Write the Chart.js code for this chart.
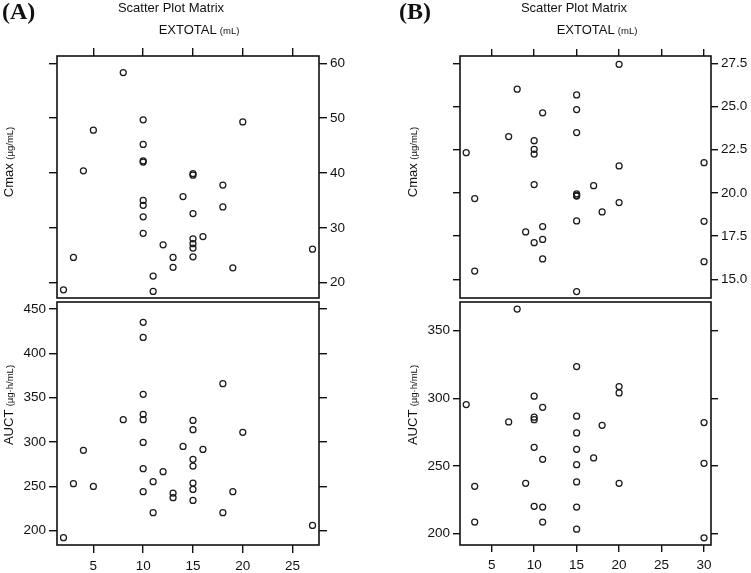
<!DOCTYPE html>
<html>
<head>
<meta charset="utf-8">
<script src="https://cdn.jsdelivr.net/npm/chart.js@4"></script>
<style>
  body { margin: 0; background: #fff; }
  #page { position: relative; width: 751px; height: 573px; overflow: hidden; font-family: "Liberation Sans", Arial, sans-serif; color: #111; }
  #page canvas { position: absolute; left: 0; top: 0; }
  .txt { position: absolute; white-space: nowrap; line-height: 1; }
  .panelTag { font-family: "Liberation Serif", "Times New Roman", serif; font-weight: bold; font-size: 24px; }
  .title { font-size: 13px; transform: translateX(-50%); }
  .small { font-size: 9.5px; }
  .ylab { font-size: 13px; transform: translate(-50%, -50%) rotate(-90deg); }
</style>
</head>
<body>
<div id="page">
  <canvas id="aTop" width="751" height="573"></canvas>
  <canvas id="aBottom" width="751" height="573"></canvas>
  <canvas id="bTop" width="751" height="573"></canvas>
  <canvas id="bBottom" width="751" height="573"></canvas>

  <div class="txt panelTag" style="left:2px; top:-1px;">(A)</div>
  <div class="txt title" style="left:171px; top:1px;">Scatter Plot Matrix</div>
  <div class="txt title" style="left:199px; top:23px;">EXTOTAL <span class="small">(mL)</span></div>
  <div class="txt ylab" style="left:8px; top:162px;">Cmax <span class="small">(µg/mL)</span></div>
  <div class="txt ylab" style="left:8px; top:405px;">AUCT <span class="small">(µg·h/mL)</span></div>

  <div class="txt panelTag" style="left:399px; top:-1px;">(B)</div>
  <div class="txt title" style="left:574px; top:1px;">Scatter Plot Matrix</div>
  <div class="txt title" style="left:597px; top:23px;">EXTOTAL <span class="small">(mL)</span></div>
  <div class="txt ylab" style="left:412px; top:162px;">Cmax <span class="small">(µg/mL)</span></div>
  <div class="txt ylab" style="left:412px; top:405px;">AUCT <span class="small">(µg·h/mL)</span></div>
</div>
<script>
'use strict';

/* data */
const extotalA = [2, 3, 4, 5, 8, 10, 10, 10, 10, 10, 10, 10, 10, 11, 11, 12, 13, 13, 14, 15, 15, 15, 15, 15, 15, 15, 16, 18, 18, 19, 20, 27];
const cmaxA = [18.7, 24.6, 40.4, 47.8, 58.3, 49.7, 45.2, 42.2, 42.0, 35.0, 34.1, 32.0, 29.0, 21.2, 18.4, 26.9, 24.6, 22.8, 35.7, 39.9, 39.6, 32.6, 28.0, 27.1, 26.3, 24.7, 28.4, 37.8, 33.8, 22.7, 49.3, 26.1];
const auctA = [192.1, 253, 290.6, 250, 325.2, 435, 418, 353.8, 331.2, 325.2, 299.6, 270, 244, 255.3, 220.3, 266.5, 242.5, 237.2, 295.1, 324.4, 313.9, 280.5, 272.9, 253.8, 246.6, 234.2, 291.7, 365.8, 220.3, 244, 311, 206];

const extotalB = [2, 3, 3, 7, 8, 9, 10, 10, 10, 10, 10, 11, 11, 11, 11, 15, 15, 15, 15, 15, 15, 15, 15, 17, 18, 20, 20, 20, 30, 30, 30];
const cmaxB = [22.33, 19.67, 15.48, 23.26, 26.0, 17.74, 23.02, 22.52, 22.25, 20.48, 17.12, 24.63, 18.05, 17.31, 16.18, 25.67, 24.82, 23.49, 19.95, 19.85, 19.82, 18.38, 14.29, 20.42, 18.9, 27.44, 21.56, 19.44, 21.75, 18.36, 16.02];
const auctB = [295.3, 235, 208.6, 282.5, 365.8, 237.2, 301.5, 286, 284.2, 263.8, 220.2, 293.3, 254.9, 219.7, 208.6, 323.4, 286.7, 274.4, 262.3, 251, 238.2, 219.7, 203.4, 255.9, 280, 308.6, 303.9, 237.2, 282, 252, 197];

/* tick labels */
const xTicksA = [5, 10, 15, 20, 25];
const xTicksB = [5, 10, 15, 20, 25, 30];
const cmaxTicksA = [20, 30, 40, 50, 60];
const auctTicksA = [200, 250, 300, 350, 400, 450];
const cmaxTicksB = [15, 17.5, 20, 22.5, 25, 27.5];
const auctTicksB = [200, 250, 300, 350];

Chart.defaults.font.family = '"Liberation Sans", Arial, sans-serif';
Chart.defaults.font.size = 13.5;
Chart.defaults.color = '#111';

const W = 751, H = 573;
const Y_AXIS_W = 40;
const X_AXIS_H = 26;

/* box around each panel */
const framePlugin = {
    id: 'frame',
    afterDraw(chart) {
        const a = chart.chartArea;
        const ctx = chart.ctx;
        ctx.save();
        ctx.strokeStyle = '#111';
        ctx.lineWidth = 1.6;
        ctx.strokeRect(a.left, a.top, a.right - a.left, a.bottom - a.top);
        ctx.restore();
    }
};

function fixedTicks(values) {
    return function(scale) {
        scale.ticks = values.map(v => ({value: v}));
    };
}

function makePanel(id, p) {
    const [x0, y0, x1, y1] = p.area;
    const points = p.xs.map((x, i) => ({x: x, y: p.ys[i]}));

    const yAxis = function(pos) {
        return {
            type: 'linear',
            position: pos,
            min: p.yRange[0],
            max: p.yRange[1],
            afterBuildTicks: fixedTicks(p.yTicks),
            afterFit: s => { s.width = Y_AXIS_W; },
            grid: {drawOnChartArea: false, drawTicks: true, tickLength: p.tickLen, color: '#111', lineWidth: 1.4},
            border: {display: false},
            ticks: {
                display: p.yLabelSide === pos,
                padding: 3,
                callback: p.yFormat
            }
        };
    };

    const xOnTop = p.xSide === 'top';
    const padding = {
        left: x0 - Y_AXIS_W,
        right: W - x1 - Y_AXIS_W,
        top: xOnTop ? y0 - X_AXIS_H : y0,
        bottom: xOnTop ? H - y1 : H - y1 - X_AXIS_H
    };

    return new Chart(document.getElementById(id), {
        type: 'scatter',
        data: {
            datasets: [{
                data: points,
                xAxisID: 'x',
                yAxisID: 'y',
                pointStyle: 'circle',
                pointRadius: 3,
                borderWidth: 1.25,
                borderColor: '#1a1a1a',
                backgroundColor: 'rgba(0,0,0,0)'
            }]
        },
        options: {
            responsive: false,
            animation: false,
            events: [],
            layout: {autoPadding: false, padding: padding},
            plugins: {legend: {display: false}, tooltip: {enabled: false}},
            scales: {
                x: {
                    type: 'linear',
                    position: p.xSide,
                    min: p.xRange[0],
                    max: p.xRange[1],
                    afterBuildTicks: fixedTicks(p.xTicks),
                    afterFit: s => { s.height = X_AXIS_H; },
                    grid: {drawOnChartArea: false, drawTicks: true, tickLength: p.tickLen, color: '#111', lineWidth: 1.4},
                    border: {display: false},
                    ticks: {display: !xOnTop, padding: 5, maxRotation: 0}
                },
                y: yAxis('left'),
                y2: yAxis('right')
            }
        },
        plugins: [framePlugin]
    });
}

/* (A) */
makePanel('aTop', {
    xs: extotalA, ys: cmaxA,
    area: [57, 56, 319, 298],
    xRange: [1.35, 27.65], xTicks: xTicksA, xSide: 'top',
    yRange: [17.2, 61.33], yTicks: cmaxTicksA, yLabelSide: 'right',
    yFormat: v => String(v), tickLen: 8
});
makePanel('aBottom', {
    xs: extotalA, ys: auctA,
    area: [57, 302, 319, 545],
    xRange: [1.35, 27.65], xTicks: xTicksA, xSide: 'bottom',
    yRange: [183.9, 457.9], yTicks: auctTicksA, yLabelSide: 'left',
    yFormat: v => String(v), tickLen: 8
});

/* (B) */
makePanel('bTop', {
    xs: extotalB, ys: cmaxB,
    area: [460, 56, 711, 298],
    xRange: [1.27, 30.82], xTicks: xTicksB, xSide: 'top',
    yRange: [13.92, 27.92], yTicks: cmaxTicksB, yLabelSide: 'right',
    yFormat: v => v.toFixed(1), tickLen: 7
});
makePanel('bBottom', {
    xs: extotalB, ys: auctB,
    area: [460, 302, 711, 545],
    xRange: [1.27, 30.82], xTicks: xTicksB, xSide: 'bottom',
    yRange: [191.7, 371], yTicks: auctTicksB, yLabelSide: 'left',
    yFormat: v => String(v), tickLen: 7
});
</script>
</body>
</html>
